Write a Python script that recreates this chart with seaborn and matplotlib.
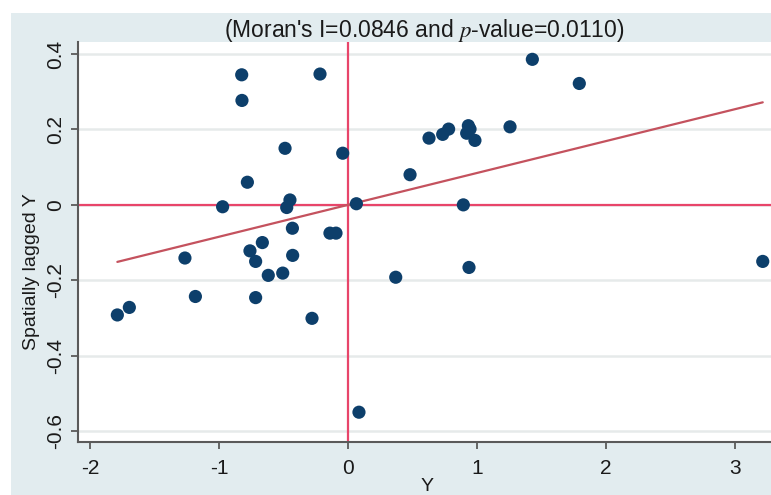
import numpy as np
import pandas as pd
import matplotlib
matplotlib.use("Agg")
import matplotlib.pyplot as plt
from matplotlib.patches import Rectangle
import seaborn as sns

# === DATA ===
y_std = [-0.824, -0.217, -0.822, -0.488, -0.041, -0.780, -0.972, -0.450, -0.475, 0.065,
         -0.431, -0.140, -0.093, -0.664, -0.760, -1.264, -0.716, -0.429, -0.618, -0.506,
         -1.183, -0.716, -1.695, -1.788, -0.279, 1.429, 1.793, 1.256, 0.933, 0.946,
         0.920, 0.984, 0.780, 0.734, 0.628, 0.481, 0.894, 0.370, 0.938, 0.085, 3.215]
lag_y = [0.345, 0.347, 0.277, 0.150, 0.137, 0.060, -0.005, 0.013, -0.007, 0.003,
         -0.062, -0.075, -0.075, -0.100, -0.122, -0.141, -0.150, -0.134, -0.187, -0.181,
         -0.243, -0.246, -0.272, -0.292, -0.301, 0.386, 0.322, 0.207, 0.210, 0.201,
         0.190, 0.171, 0.201, 0.187, 0.177, 0.080, 0.000, -0.192, -0.166, -0.550, -0.150]
morans_i = 0.0846
p_value = 0.0110
x_ticks = [-2, -1, 0, 1, 2, 3]
y_ticks = [-0.6, -0.4, -0.2, 0, 0.2, 0.4]
y_tick_labels = ["-0.6", "-0.4", "-0.2", "0", "0.2", "0.4"]

df = pd.DataFrame({"Y": y_std, "Spatially lagged Y": lag_y})
fit = pd.DataFrame({"Y": [min(y_std), max(y_std)]})
fit["Spatially lagged Y"] = morans_i * fit["Y"]

# === STYLE ===
sns.set_theme(style="white")
plt.rcParams["font.family"] = ["Liberation Sans", "DejaVu Sans"]
plt.rcParams["mathtext.fontset"] = "stix"

BG = "#e2ecef"
NAVY = "#0d3f6b"
RED = "#e8456a"
FIT = "#c4525e"

fig = plt.figure(figsize=(7.71, 4.95), dpi=100)
fig.patch.set_facecolor("white")
fig.patches.append(Rectangle((11 / 771, 0), 1, (495 - 13) / 495, transform=fig.transFigure,
                             facecolor=BG, edgecolor="none", zorder=-10))
ax = fig.add_axes([78 / 771, 53 / 495, 693 / 771, 400 / 495])
ax.set_facecolor("white")

# light horizontal grid at the y ticks, red quadrant lines through the origin
for t in y_ticks:
    ax.axhline(t, color="#e6eaea", lw=1.8, zorder=0)
ax.axvline(0, color=RED, lw=1.6, zorder=1)
ax.axhline(0, color=RED, lw=1.6, zorder=1)

sns.lineplot(data=fit, x="Y", y="Spatially lagged Y", color=FIT, lw=1.6, ax=ax, zorder=2)
sns.scatterplot(data=df, x="Y", y="Spatially lagged Y", color=NAVY, s=90,
                edgecolor="none", ax=ax, zorder=3)

ax.set_xlim(-2.093, 3.279)
ax.set_ylim(-0.629, 0.432)
ax.set_xticks(x_ticks)
ax.set_xticklabels([str(v) for v in x_ticks], fontsize=15)
ax.set_yticks(y_ticks)
ax.set_yticklabels(y_tick_labels, fontsize=15, rotation=90, va="center")

for s in ["top", "right"]:
    ax.spines[s].set_visible(False)
for s in ["left", "bottom"]:
    ax.spines[s].set_color("#5a5a5a")
    ax.spines[s].set_linewidth(1.5)
ax.tick_params(axis="both", length=5, width=1.3, color="#5a5a5a", colors="#1a1a1a",
               bottom=True, left=True)
ax.tick_params(axis="x", pad=7)
ax.tick_params(axis="y", pad=4)

ax.set_xlabel("Y", fontsize=14, color="#1a1a1a", va="top")
ax.xaxis.set_label_coords(0.504, -0.09)
ax.set_ylabel("Spatially lagged Y", fontsize=14, color="#1a1a1a")
ax.yaxis.set_label_coords(-0.055, 0.425)

ax.set_title(f"(Moran's I={morans_i:.4f} and $p$-value={p_value:.4f})",
             fontsize=16.5, color="#1a1a1a", pad=0, y=1.0 + 5 / 400)

fig.savefig("out.png", dpi=100)
